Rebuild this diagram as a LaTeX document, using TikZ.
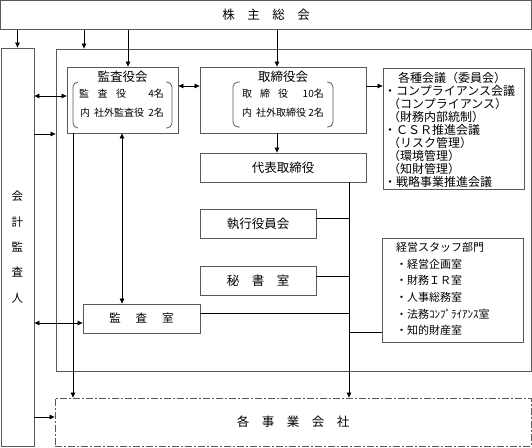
\documentclass[tikz,border=0pt]{standalone}
\usepackage{fontspec}
\setmainfont{Noto Sans CJK JP}
\usetikzlibrary{arrows.meta}

\newcommand{\jfs}[1]{\fontsize{#1}{#1}\selectfont}
\newcommand{\pind}{\hspace*{4pt}}

\tikzset{
  orgbox/.style={draw=black!65, line width=0.8pt, inner sep=0pt},
  txt/.style={inner sep=0pt},
  link/.style={draw=black, line width=0.7pt},
  arr/.style={link, -{Triangle[length=5pt,width=4.5pt]}},
  darr/.style={link, {Triangle[length=5pt,width=4.5pt]}-{Triangle[length=5pt,width=4.5pt]}},
  brk/.style={draw=black!65, line width=0.8pt, rounded corners=5pt},
}

\begin{document}
\begin{tikzpicture}[x=1pt,y=-1pt]
\useasboundingbox (0,0) rectangle (532,447);

    % helper columns and rows for the connectors
    \coordinate (xa) at (84,0);
    \coordinate (xb) at (128,0);
    \coordinate (xc) at (277,0);
    \coordinate (xd) at (349,0);
    \coordinate (xe) at (73,0);
    \coordinate (xf) at (122,0);
    \coordinate (ya) at (0,96);
    \coordinate (yb) at (0,134);
    \coordinate (yc) at (0,86);
    \coordinate (yd) at (0,218);
    \coordinate (ye) at (0,276);
    \coordinate (yf) at (0,313);
    \coordinate (yg) at (0,332);
    \coordinate (yh) at (0,323);
    \coordinate (yi) at (0,417);

    % 株主総会
    \node[orgbox, minimum width=531pt, minimum height=29pt, font=\jfs{12.5}] (kabunushi) at (266,15) {株\quad 主\quad 総\quad 会};

    % 会計監査人
    \node[orgbox, minimum width=33pt, minimum height=398pt] (kaikei) at (17.5,247) {};
    \node[txt, align=center, font=\fontsize{11.5}{25.3}\selectfont] (kaikeitxt) at (17.5,247) {会\\計\\監\\査\\人};

    % outer frame
    \node[orgbox, minimum width=475pt, minimum height=322pt] (waku) at (293.5,210) {};

    % 監査役会
    \node[orgbox, minimum width=111pt, minimum height=66pt] (kansayakukai) at (122.5,100) {};
    \node[txt, font=\jfs{12.5}] (kansattl) at (122.5,77) {監査役会};
    \node[txt, anchor=west, font=\jfs{10}] (kansa1) at (79,94) {監\hspace{8.5pt}査\hspace{8.5pt}役};
    \node[txt, anchor=east, font=\jfs{10}] (kansa1n) at (164,94) {4名};
    \node[txt, anchor=west, font=\jfs{10}] (kansa2) at (80,113) {内\hspace{4pt}社外監査役};
    \node[txt, anchor=east, font=\jfs{10}] (kansa2n) at (164,113) {2名};
    \draw[brk] (78,82) -| (73,128) -- (78,128);
    \draw[brk] (166,82) -| (172,128) -- (166,128);

    % 取締役会
    \node[orgbox, minimum width=166pt, minimum height=66pt] (torishimariyakukai) at (283,100) {};
    \node[txt, font=\jfs{12.5}] (torittl) at (283,77) {取締役会};
    \node[txt, anchor=west, font=\jfs{10}] (tori1) at (242,94) {取\hspace{8pt}締\hspace{8pt}役};
    \node[txt, anchor=east, font=\jfs{10}] (tori1n) at (324,94) {10名};
    \node[txt, anchor=west, font=\jfs{10}] (tori2) at (242,113) {内\hspace{4pt}社外取締役};
    \node[txt, anchor=east, font=\jfs{10}] (tori2n) at (324,113) {2名};
    \draw[brk] (240,82) -| (233,127) -- (240,127);
    \draw[brk] (327,82) -| (333,127) -- (327,127);

    % 各種会議
    \node[orgbox, minimum width=141pt, minimum height=121pt] (kakushu) at (453.5,128.5) {};
    \node[txt, anchor=north west, align=left, font=\fontsize{12}{13}\selectfont] (kakushutxt) at (384,72)
        {\hspace*{2pt}　各種会議（委員会）\\・コンプライアンス会議\\\pind（コンプライアンス）\\\pind（財務内部統制）\\・ＣＳＲ推進会議\\\pind（リスク管理）\\\pind（環境管理）\\\pind（知財管理）\\・戦略事業推進会議};

    % 代表取締役, 執行役員会, 秘書室, 監査室
    \node[orgbox, minimum width=166pt, minimum height=29pt, font=\jfs{12.5}] (daihyo) at (283,167.5) {代表取締役};
    \node[orgbox, minimum width=116pt, minimum height=29pt, font=\jfs{12.5}] (shikko) at (258,223.5) {執行役員会};
    \node[orgbox, minimum width=116pt, minimum height=29pt, font=\jfs{12.5}] (hisho) at (258,280.5) {秘\quad 書\quad 室};
    \node[orgbox, minimum width=117pt, minimum height=29pt, font=\jfs{11.5}] (kansashitsu) at (141.5,318.5) {監\hspace{15pt}査\hspace{15pt}室};

    % 経営スタッフ部門
    \node[orgbox, minimum width=141pt, minimum height=104pt] (staff) at (452.5,290) {};
    \node[txt, anchor=north west, align=left, font=\fontsize{11}{16.7}\selectfont] (stafftxt) at (396,242)
        {経営スタッフ部門\\・経営企画室\\・財務ＩＲ室\\・人事総務室\\・法務ｺﾝﾌﾟﾗｲｱﾝｽ室\\・知的財産室};

    % 各事業会社
    \node[orgbox, dash pattern=on 7pt off 2pt on 2pt off 2pt, minimum width=476pt, minimum height=48pt, font=\jfs{12.5}] (jigyo) at (293,422) {各\quad 事\quad 業\quad 会\quad 社};

    % connectors
    \draw[arr] (kabunushi.south -| kaikei.north) -- (kaikei.north);
    \draw[arr] (kabunushi.south -| xa) -- (waku.north -| xa);
    \draw[arr] (kabunushi.south -| xb) -- (kansayakukai.north -| xb);
    \draw[arr] (kabunushi.south -| xc) -- (torishimariyakukai.north -| xc);
    \draw[darr] (kaikei.east |- ya) -- (kansayakukai.west |- ya);
    \draw[arr] (kaikei.east |- yb) -- (waku.west |- yb);
    \draw[darr] (kansayakukai.east |- yc) -- (torishimariyakukai.west |- yc);
    \draw[arr] (torishimariyakukai.east |- yc) -- (kakushu.west |- yc);
    \draw[arr] (torishimariyakukai.south -| xc) -- (daihyo.north -| xc);
    \draw[arr] (daihyo.south -| xd) -- (jigyo.north -| xd);
    \draw[link] (shikko.east |- yd) -- (xd |- yd);
    \draw[link] (hisho.east |- ye) -- (xd |- ye);
    \draw[link] (kansashitsu.east |- yf) -- (xd |- yf);
    \draw[link] (xd |- yg) -- (staff.west |- yg);
    \draw[darr] (kansayakukai.south -| xf) -- (kansashitsu.north -| xf);
    \draw[arr] (kansayakukai.south -| xe) -- (jigyo.north -| xe);
    \draw[darr] (kaikei.east |- yh) -- (kansashitsu.west |- yh);
    \draw[arr] (kaikei.east |- yi) -- (jigyo.west |- yi);

\end{tikzpicture}
\end{document}
